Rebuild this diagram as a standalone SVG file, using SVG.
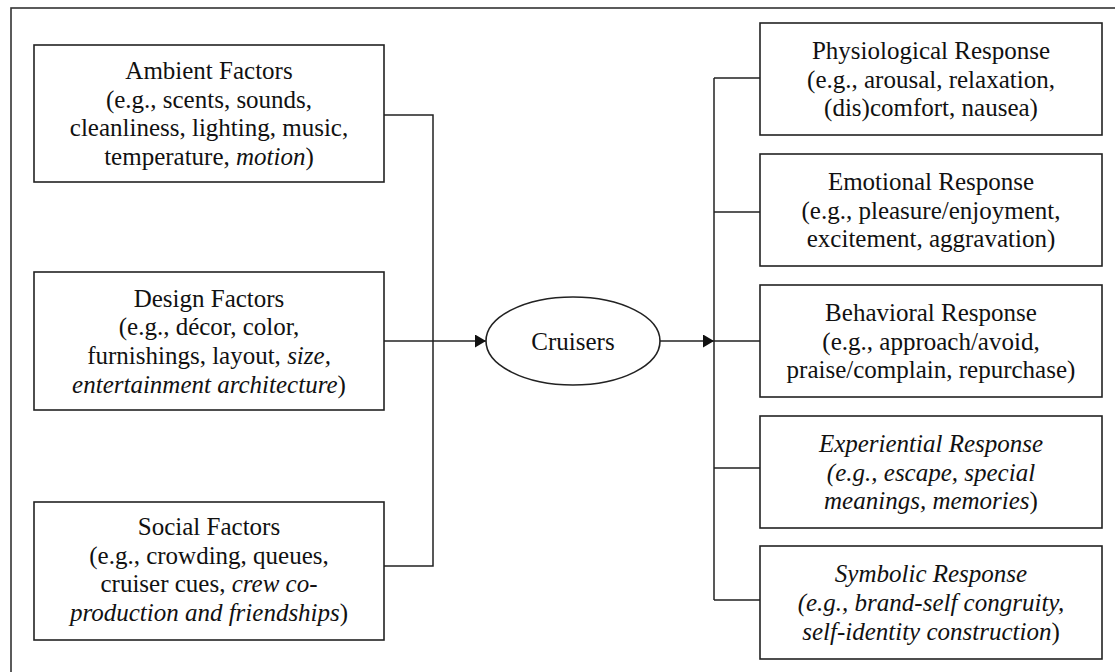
<svg xmlns="http://www.w3.org/2000/svg" width="1115" height="672" viewBox="0 0 1115 672">
<style>
.box{fill:#fff;stroke:#222;stroke-width:1.6}
.ln{fill:none;stroke:#222;stroke-width:1.5}
text{font-family:"Liberation Serif","Times New Roman",serif;font-size:25px;fill:#111;text-anchor:middle}
.i{font-style:italic}
.n{font-style:normal}
</style>
<defs>
<marker id="arr" markerUnits="userSpaceOnUse" markerWidth="12" markerHeight="14" refX="11" refY="6.5" orient="auto">
<path d="M0,0 L11,6.5 L0,13 Z" fill="#111"/>
</marker>
</defs>
<rect x="0" y="0" width="1115" height="672" fill="#fff"/>
<rect x="11" y="8" width="1130" height="690" fill="none" stroke="#333" stroke-width="1.6"/>
<g id="connectors">
<path class="ln" d="M384,115 H433 V566 H384"/>
<path class="ln" d="M384,341 H486" marker-end="url(#arr)"/>
<path class="ln" d="M660,341 H714" marker-end="url(#arr)"/>
<path class="ln" d="M714,78 V600"/>
<path class="ln" d="M714,78 H760 M714,212 H760 M714,341 H760 M714,468 H760 M714,600 H760"/>
</g>
<g id="ambient">
<rect class="box" x="34" y="45" width="350" height="137"/>
<text x="209" y="79">Ambient Factors</text>
<text x="209" y="107.7">(e.g., scents, sounds,</text>
<text x="209" y="136.3">cleanliness, lighting, music,</text>
<text x="209" y="165">temperature, <tspan class="i">motion</tspan>)</text>
</g>
<g id="design">
<rect class="box" x="34" y="272" width="350" height="138"/>
<text x="209" y="306.5">Design Factors</text>
<text x="209" y="335.2">(e.g., décor, color,</text>
<text x="209" y="363.8">furnishings, layout, <tspan class="i">size,</tspan></text>
<text x="209" y="392.5"><tspan class="i">entertainment architecture</tspan>)</text>
</g>
<g id="social">
<rect class="box" x="34" y="502" width="350" height="138"/>
<text x="209" y="535">Social Factors</text>
<text x="209" y="563.7">(e.g., crowding, queues,</text>
<text x="209" y="592.3">cruiser cues, <tspan class="i">crew co-</tspan></text>
<text x="209" y="621"><tspan class="i">production and friendships</tspan>)</text>
</g>
<g id="cruisers">
<ellipse cx="573" cy="341" rx="87" ry="44" fill="#fff" stroke="#222" stroke-width="1.6"/>
<text x="573" y="349.5">Cruisers</text>
</g>
<g id="physiological">
<rect class="box" x="760" y="23" width="342" height="112"/>
<text x="931" y="58.8">Physiological Response</text>
<text x="931" y="87.5">(e.g., arousal, relaxation,</text>
<text x="931" y="116.2">(dis)comfort, nausea)</text>
</g>
<g id="emotional">
<rect class="box" x="760" y="154" width="342" height="112"/>
<text x="931" y="189.8">Emotional Response</text>
<text x="931" y="218.5">(e.g., pleasure/enjoyment,</text>
<text x="931" y="247.2">excitement, aggravation)</text>
</g>
<g id="behavioral">
<rect class="box" x="760" y="285" width="342" height="112"/>
<text x="931" y="320.8">Behavioral Response</text>
<text x="931" y="349.5">(e.g., approach/avoid,</text>
<text x="931" y="378.2">praise/complain, repurchase)</text>
</g>
<g id="experiential">
<rect class="box" x="760" y="416" width="342" height="112"/>
<text x="931" y="451.8" class="i">Experiential Response</text>
<text x="931" y="480.5" class="i">(e.g., escape, special</text>
<text x="931" y="509.2"><tspan class="i">meanings, memories</tspan>)</text>
</g>
<g id="symbolic">
<rect class="box" x="760" y="546" width="342" height="113"/>
<text x="931" y="582.3" class="i">Symbolic Response</text>
<text x="931" y="611" class="i">(e.g., brand-self congruity,</text>
<text x="931" y="639.7"><tspan class="i">self-identity construction</tspan>)</text>
</g>
</svg>
